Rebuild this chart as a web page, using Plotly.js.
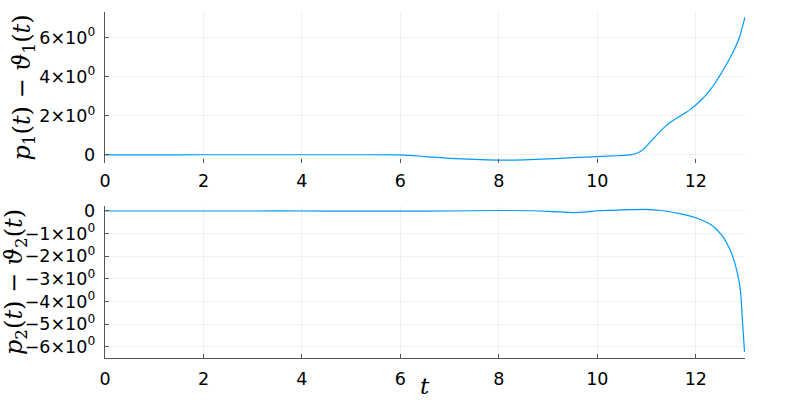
<!DOCTYPE html>
<html>
<head>
<meta charset="utf-8">
<script src="https://cdn.plot.ly/plotly-3.0.1.min.js"></script>
<style>html,body{margin:0;padding:0;background:#fff;}#plot{width:800px;height:400px;}</style>
</head>
<body>
<div id="plot"></div>
<script>
// Top panel: p1(t) - θ1(t)
const t1 = [0, 1, 2, 3, 4, 5, 6, 6.5, 7, 7.5, 8, 8.5, 9, 9.5, 10, 10.4, 10.6, 10.7, 10.8, 10.9, 11.0, 11.1, 11.2, 11.3, 11.4, 11.5, 11.6, 11.7, 11.8, 11.9, 12.0, 12.1, 12.2, 12.3, 12.4, 12.5, 12.6, 12.7, 12.8, 12.9, 13];
const v1 = [0, 0, 0.01, 0.01, 0.01, 0.01, 0, -0.08, -0.17, -0.23, -0.26, -0.25, -0.2, -0.14, -0.08, -0.04, -0.01, 0.02, 0.09, 0.22, 0.45, 0.72, 1.0, 1.27, 1.5, 1.7, 1.86, 2.02, 2.17, 2.34, 2.55, 2.78, 3.04, 3.35, 3.7, 4.1, 4.53, 4.98, 5.48, 6.1, 7.05];
// Bottom panel: p2(t) - θ2(t)
const t2 = [0, 1, 2, 3, 4, 5, 6, 7, 8, 8.7, 9.1, 9.5, 9.8, 10, 10.5, 11, 11.3, 11.7, 12, 12.2, 12.36, 12.5, 12.57, 12.66, 12.74, 12.84, 12.91, 12.95, 12.99];
const v2 = [0, 0, 0, 0, 0, -0.01, -0.01, 0, 0.02, 0.01, -0.03, -0.07, -0.04, 0.01, 0.05, 0.07, 0.02, -0.13, -0.3, -0.48, -0.69, -1.0, -1.2, -1.55, -1.95, -2.69, -3.57, -4.9, -6.23];

const xTicks = [0, 2, 4, 6, 8, 10, 12];
const y1Ticks = [0, 2, 4, 6];
const y1Labels = ['0', '2×10<sup>0</sup>', '4×10<sup>0</sup>', '6×10<sup>0</sup>'];
const y2Ticks = [0, -1, -2, -3, -4, -5, -6];
const y2Labels = ['0', '−1×10<sup>0</sup>', '−2×10<sup>0</sup>', '−3×10<sup>0</sup>', '−4×10<sup>0</sup>', '−5×10<sup>0</sup>', '−6×10<sup>0</sup>'];

const lineColor = '#009AFA';
const tickFont = {family: 'DejaVu Sans', size: 17.5, color: '#000'};
const titleFont = {family: 'DejaVu Serif', size: 24, color: '#000'};

const traces = [
  {x: t1, y: v1, type: 'scatter', mode: 'lines', line: {color: lineColor, width: 1.2, shape: 'spline', smoothing: 0.6}, xaxis: 'x', yaxis: 'y', showlegend: false, hoverinfo: 'skip'},
  {x: t2, y: v2, type: 'scatter', mode: 'lines', line: {color: lineColor, width: 1.2, shape: 'spline', smoothing: 0.6}, xaxis: 'x2', yaxis: 'y2', showlegend: false, hoverinfo: 'skip'}
];

const commonX = {
  range: [0, 13.0], tickvals: xTicks, ticktext: xTicks.map(String),
  showgrid: true, gridcolor: 'rgba(0,0,0,0.06)', gridwidth: 1,
  zeroline: false, ticks: 'inside', ticklen: 4, tickcolor: '#555',
  tickfont: tickFont, ticklabelstandoff: 5, domain: [0.13125, 0.93125]
};

const layout = {
  width: 800, height: 400,
  margin: {l: 0, r: 0, t: 0, b: 0},
  paper_bgcolor: '#fff', plot_bgcolor: '#fff',
  xaxis: Object.assign({}, commonX, {anchor: 'y', showline: false}),
  yaxis: {
    domain: [0.5925, 0.97], range: [-0.41, 7.3], anchor: 'x',
    tickvals: y1Ticks, ticktext: y1Labels, tickfont: tickFont, ticklabelstandoff: 5,
    showgrid: true, gridcolor: 'rgba(0,0,0,0.06)', gridwidth: 1,
    zeroline: false, showline: true, linecolor: '#555', linewidth: 1.3,
    ticks: 'inside', ticklen: 4, tickcolor: '#555',
    title: {text: '<i>p</i><sub>1</sub>(<i>t</i>) − <i>ϑ</i><sub>1</sub>(<i>t</i>)', font: titleFont, standoff: 2}
  },
  xaxis2: Object.assign({}, commonX, {anchor: 'y2', showline: true, linecolor: '#555', linewidth: 1.3}),
  yaxis2: {
    domain: [0.105, 0.485], range: [-6.5, 0.22], anchor: 'x2',
    tickvals: y2Ticks, ticktext: y2Labels, tickfont: tickFont, ticklabelstandoff: 5,
    showgrid: true, gridcolor: 'rgba(0,0,0,0.06)', gridwidth: 1,
    zeroline: false, showline: true, linecolor: '#555', linewidth: 1.3,
    ticks: 'inside', ticklen: 4, tickcolor: '#555',
    title: {text: '<i>p</i><sub>2</sub>(<i>t</i>) − <i>ϑ</i><sub>2</sub>(<i>t</i>)', font: titleFont, standoff: 2}
  },
  annotations: [
    {text: '<i>t</i>', font: {family: 'DejaVu Serif', size: 23, color: '#000'}, xref: 'paper', yref: 'paper', x: 0.53125, y: 0.0,
     xanchor: 'center', yanchor: 'bottom', showarrow: false, borderpad: 0}
  ]
};

Plotly.newPlot('plot', traces, layout, {staticPlot: true, displayModeBar: false});
</script>
</body>
</html>
